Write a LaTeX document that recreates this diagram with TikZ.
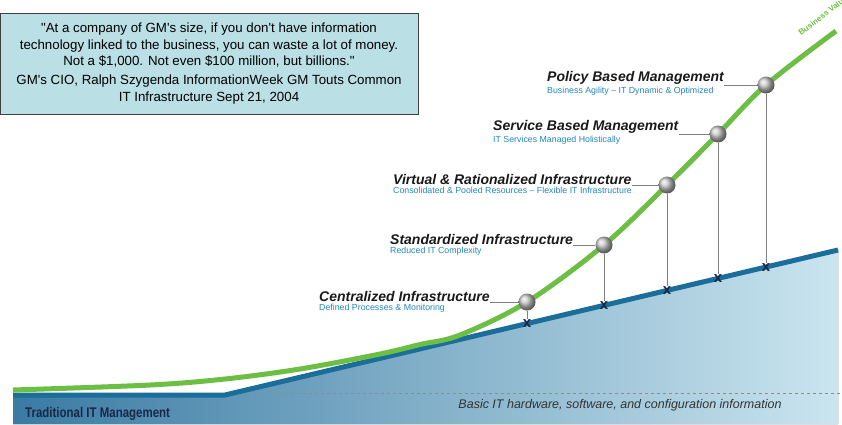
\documentclass[tikz,border=0pt]{standalone}
\usepackage{fontspec}
\setmainfont{Liberation Sans}
\newfontfamily\narrowfont[FakeStretch=0.82]{Liberation Sans}
\usepackage{tikz}
\usetikzlibrary{positioning}
\usetikzlibrary{shadings}

\definecolor{quotebg}{RGB}{186,223,229}
\definecolor{valuegreen}{RGB}{109,190,69}
\definecolor{baseblue}{RGB}{28,110,154}
\definecolor{subblue}{RGB}{35,135,185}
\definecolor{navy}{RGB}{25,40,70}
\definecolor{fillleft}{RGB}{58,122,163}
\definecolor{fillright}{RGB}{202,229,239}

\begin{document}
\begin{tikzpicture}[x=1pt, y=1pt,
  quote/.style={draw=black!75, fill=quotebg, minimum width=418pt, minimum height=101pt, inner sep=0pt, align=center, font=\fontsize{13.3}{16.5}\selectfont},
  level/.style={anchor=south west, inner sep=0pt, text=black!90, font=\fontsize{14}{15}\selectfont\bfseries\itshape},
  sub/.style={inner sep=0pt, text=subblue, font=\fontsize{8.8}{9}\selectfont},
  ball/.style={circle, minimum size=17pt, inner sep=0pt, shading=ball, ball color=black!22},
  cross/.style={inner sep=0.5pt, text=navy, font=\fontsize{15}{15}\selectfont\bfseries},
  stem/.style={draw=black!50, line width=0.8pt}]
 \useasboundingbox (0,0) rectangle (842,-424);
 \clip (0,0) rectangle (842,-424);

 %base area
 \path[fill, left color=fillleft, right color=fillright] (13,-393) -- (225,-393) -- (838,-249) -- (838,-424) -- (13,-424) -- cycle;
 \draw[black!45, dashed, line width=0.8pt] (225,-393) -- (842,-393);
 \draw[baseblue, line width=5pt] (13,-395) -- (225,-395) -- (838,-250);

 %value curve
 \draw[valuegreen, line width=5pt] plot[smooth, tension=0.55] coordinates {(13,-390) (150,-385) (225,-379) (300,-369) (380,-354) (420,-344.5) (460,-335) (527,-302) (604,-245) (667,-185) (718,-134) (766,-85) (836,-31)};
 \node[valuegreen, rotate=37, anchor=south west, inner sep=0pt, font=\fontsize{8}{8}\selectfont\bfseries] (bv) at (801,-36) {Business Value};

 %quote
 \node[quote] (q) at (209,-63.5) {\textquotedbl At a company of GM\textquotesingle s size, if you don\textquotesingle t have information\\
   technology linked to the business, you can waste a lot of money.\\
   Not a \$1,000. Not even \$100 million, but billions.\textquotedbl\\[2.5pt]
   GM\textquotesingle s CIO, Ralph Szygenda InformationWeek GM Touts Common\\
   IT Infrastructure Sept 21, 2004};

 %circles
 \node[ball] (c1) at (527,-302) {};
 \node[ball] (c2) at (604,-245) {};
 \node[ball] (c3) at (667,-185) {};
 \node[ball] (c4) at (718,-134) {};
 \node[ball] (c5) at (766,-85) {};

 %marks
 \node[cross] (x1) at (527,-324) {x};
 \node[cross] (x2) at (604,-305.5) {x};
 \node[cross] (x3) at (667,-290.7) {x};
 \node[cross] (x4) at (718,-278.8) {x};
 \node[cross] (x5) at (766,-267.2) {x};

 %titles
 \node[level] (t1) at (319,-302) {Centralized Infrastructure};
 \node[level] (t2) at (390,-245) {Standardized Infrastructure};
 \node[level] (t3) at (393,-185) {Virtual \& Rationalized Infrastructure};
 \node[level] (t4) at (493,-134) {Service Based Management};
 \node[level] (t5) at (547,-85) {Policy Based Management};

 \node[sub, below right=1.5pt and 0pt of t1.south west] (s1) {Defined Processes \& Monitoring};
 \node[sub, below right=1.5pt and 0pt of t2.south west] (s2) {Reduced IT Complexity};
 \node[sub, below right=1.5pt and 0pt of t3.south west] (s3) {Consolidated \& Pooled Resources -- Flexible IT Infrastructure};
 \node[sub, below right=1.5pt and 0pt of t4.south west] (s4) {IT Services Managed Holistically};
 \node[sub, below right=1.5pt and 0pt of t5.south west] (s5) {Business Agility -- IT Dynamic \& Optimized};

 %lines
 \path[stem] (t1.south east) -- (c1);
 \path[stem] (t2.south east) -- (c2);
 \path[stem] (t3.south east) -- (c3);
 \path[stem] (t4.south east) -- (c4);
 \path[stem] (t5.south east) -- (c5);

 \path[stem] (c1) -- (x1);
 \path[stem] (c2) -- (x2);
 \path[stem] (c3) -- (x3);
 \path[stem] (c4) -- (x4);
 \path[stem] (c5) -- (x5);

 %bottom labels
 \node[anchor=west, inner sep=0pt, text=navy] (trad) at (25,-414) {\narrowfont\bfseries\fontsize{14}{14}\selectfont Traditional IT Management};
 \node[inner sep=0pt, text=black!80] (basic) at (620,-405) {\itshape\fontsize{12.5}{12.5}\selectfont Basic IT hardware, software, and configuration information};

\end{tikzpicture}
\end{document}
